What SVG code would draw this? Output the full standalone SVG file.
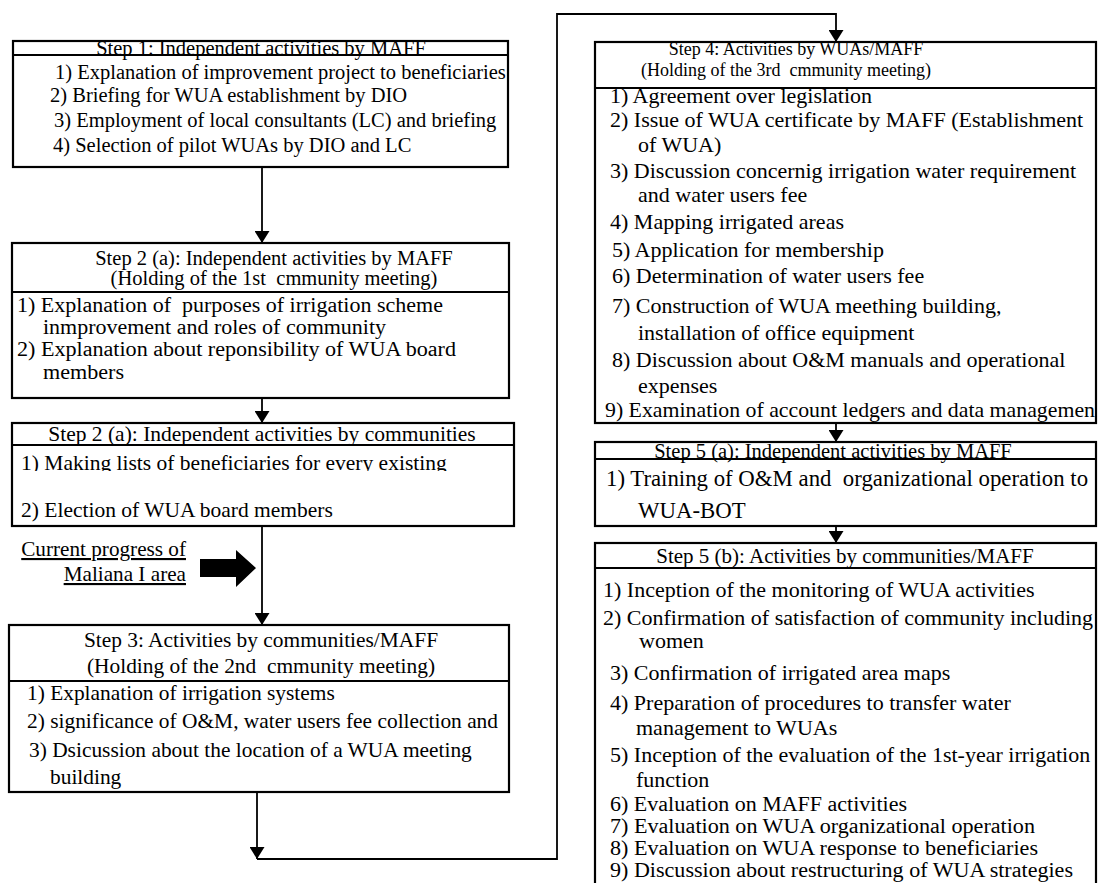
<svg xmlns="http://www.w3.org/2000/svg" width="1099" height="883" viewBox="0 0 1099 883">
<style>
  text { font-family: "Liberation Serif", "Times New Roman", serif; font-size: 22px; fill: #000; white-space: pre; }
  .h { text-anchor: middle; }
  .box { fill: #fff; stroke: #000; stroke-width: 2.2; }
  .div { stroke: #000; stroke-width: 2; }
  .con { fill: none; stroke: #000; stroke-width: 1.8; }
  .u { text-decoration: underline; text-anchor: end; font-size: 21.2px; }
  .s1 text { font-size: 20.5px; }
  .s2m text { font-size: 20.5px; }
  .s2c text { font-size: 21.5px; }
  .s3 text { font-size: 21.4px; }
  .s4 .h { font-size: 18px; }
  .s5a text { font-size: 22.8px; }
  .s5a .h { font-size: 20.5px; }
  .s5b .h { font-size: 21px; }
  .s5b .t { font-size: 20.5px; }
</style>
<defs>
  <marker id="ah" markerUnits="userSpaceOnUse" markerWidth="12" markerHeight="15" refX="12" refY="7.5" orient="auto">
    <path d="M0,0 L12,7.5 L0,15 Z" fill="#000"/>
  </marker>
  <clipPath id="clipMaking"><rect x="10" y="446" width="510" height="25"/></clipPath>
</defs>

<g id="connectors">
  <line class="con" x1="262" y1="167" x2="262" y2="243" marker-end="url(#ah)"/>
  <line class="con" x1="262" y1="398" x2="262" y2="423" marker-end="url(#ah)"/>
  <line class="con" x1="262" y1="526" x2="262" y2="625" marker-end="url(#ah)"/>
  <line class="con" x1="257" y1="792" x2="257" y2="859" marker-end="url(#ah)"/>
  <polyline class="con" points="257,859 557,859 557,14 836,14 836,42" marker-end="url(#ah)"/>
  <line class="con" x1="836" y1="423" x2="836" y2="442" marker-end="url(#ah)"/>
  <line class="con" x1="836" y1="526" x2="836" y2="543" marker-end="url(#ah)"/>
</g>

<g id="step1" class="s1">
  <rect class="box" x="13" y="41" width="495" height="126"/>
  <line class="div" x1="13" y1="55" x2="508" y2="55"/>
  <text class="h" x="261" y="55">Step 1: Independent activities by MAFF</text>
  <text x="55" y="79">1) Explanation of improvement project to beneficiaries</text>
  <text x="50" y="102">2) Briefing for WUA establishment by DIO</text>
  <text x="54" y="127">3) Employment of local consultants (LC) and briefing</text>
  <text x="53" y="152">4) Selection of pilot WUAs by DIO and LC</text>
</g>

<g id="step2a-maff" class="s2m">
  <rect class="box" x="12" y="243" width="497" height="155"/>
  <line class="div" x1="12" y1="292" x2="509" y2="292"/>
  <text class="h" x="274" y="265">Step 2 (a): Independent activities by MAFF</text>
  <text class="h" x="274" y="285">(Holding of the 1st  cmmunity meeting)</text>
  <text x="17" y="312" textLength="426" lengthAdjust="spacingAndGlyphs">1) Explanation of  purposes of irrigation scheme</text>
  <text x="43" y="334" textLength="343" lengthAdjust="spacingAndGlyphs">inmprovement and roles of community</text>
  <text x="17" y="356" textLength="439" lengthAdjust="spacingAndGlyphs">2) Explanation about reponsibility of WUA board</text>
  <text x="43" y="379" textLength="81" lengthAdjust="spacingAndGlyphs">members</text>
</g>

<g id="step2a-communities" class="s2c">
  <rect class="box" x="12" y="423" width="502" height="103"/>
  <line class="div" x1="12" y1="445" x2="514" y2="445"/>
  <text class="h" x="262" y="441">Step 2 (a): Independent activities by communities</text>
  <text x="21" y="470" clip-path="url(#clipMaking)">1) Making lists of beneficiaries for every existing</text>
  <text x="21" y="517">2) Election of WUA board members</text>
</g>

<g id="current-progress">
  <text class="u" x="186" y="556">Current progress of</text>
  <text class="u" x="186" y="581">Maliana I area</text>
  <polygon points="200,559 236,559 236,550 256,568 236,587 236,577 200,577" fill="#000"/>
</g>

<g id="step3" class="s3">
  <rect class="box" x="9" y="625" width="500" height="167"/>
  <line class="div" x1="9" y1="681" x2="509" y2="681"/>
  <text class="h" x="261" y="647">Step 3: Activities by communities/MAFF</text>
  <text class="h" x="261" y="673">(Holding of the 2nd  cmmunity meeting)</text>
  <text x="27" y="700">1) Explanation of irrigation systems</text>
  <text x="27" y="728">2) significance of O&amp;M, water users fee collection and</text>
  <text x="29" y="757">3) Dsicussion about the location of a WUA meeting</text>
  <text x="50" y="784">building</text>
</g>

<g id="step4" class="s4">
  <rect class="box" x="595" y="42" width="501" height="381"/>
  <line class="div" x1="595" y1="88" x2="1096" y2="88"/>
  <text class="h" x="796" y="55">Step 4: Activities by WUAs/MAFF</text>
  <text class="h" x="786" y="76">(Holding of the 3rd  cmmunity meeting)</text>
  <text x="610" y="103">1) Agreement over legislation</text>
  <text x="610" y="127">2) Issue of WUA certificate by MAFF (Establishment</text>
  <text x="638" y="152">of WUA)</text>
  <text x="610" y="178">3) Discussion concernig irrigation water requirement</text>
  <text x="638" y="202">and water users fee</text>
  <text x="610" y="229">4) Mapping irrigated areas</text>
  <text x="612" y="257">5) Application for membership</text>
  <text x="612" y="283">6) Determination of water users fee</text>
  <text x="612" y="313">7) Construction of WUA meething building,</text>
  <text x="638" y="340">installation of office equipment</text>
  <text x="612" y="367">8) Discussion about O&amp;M manuals and operational</text>
  <text x="638" y="393">expenses</text>
  <text x="605" y="417" textLength="490" lengthAdjust="spacingAndGlyphs">9) Examination of account ledgers and data managemen</text>
</g>

<g id="step5a" class="s5a">
  <rect class="box" x="595" y="442" width="501" height="84"/>
  <line class="div" x1="595" y1="459" x2="1096" y2="459"/>
  <text class="h" x="833" y="458">Step 5 (a): Independent activities by MAFF</text>
  <text x="606" y="486">1) Training of O&amp;M and  organizational operation to</text>
  <text x="638" y="518">WUA-BOT</text>
</g>

<g id="step5b" class="s5b">
  <rect class="box" x="595" y="543" width="501" height="350"/>
  <line class="div" x1="595" y1="568" x2="1096" y2="568"/>
  <text class="h" x="845" y="563">Step 5 (b): Activities by communities/MAFF</text>
  <text x="603" y="597">1) Inception of the monitoring of WUA activities</text>
  <text x="603" y="625">2) Confirmation of satisfaction of community including</text>
  <text x="639" y="648">women</text>
  <text x="610" y="680">3) Confirmation of irrigated area maps</text>
  <text x="610" y="710">4) Preparation of procedures to transfer water</text>
  <text x="636" y="735">management to WUAs</text>
  <text x="610" y="762">5) Inception of the evaluation of the 1st-year irrigation</text>
  <text x="636" y="787">function</text>
  <text class="t" x="610" y="811" textLength="297" lengthAdjust="spacingAndGlyphs">6) Evaluation on MAFF activities</text>
  <text class="t" x="610" y="833" textLength="425" lengthAdjust="spacingAndGlyphs">7) Evaluation on WUA organizational operation</text>
  <text class="t" x="610" y="855" textLength="428" lengthAdjust="spacingAndGlyphs">8) Evaluation on WUA response to beneficiaries</text>
  <text class="t" x="610" y="877" textLength="463" lengthAdjust="spacingAndGlyphs">9) Discussion about restructuring of WUA strategies</text>
</g>
</svg>
